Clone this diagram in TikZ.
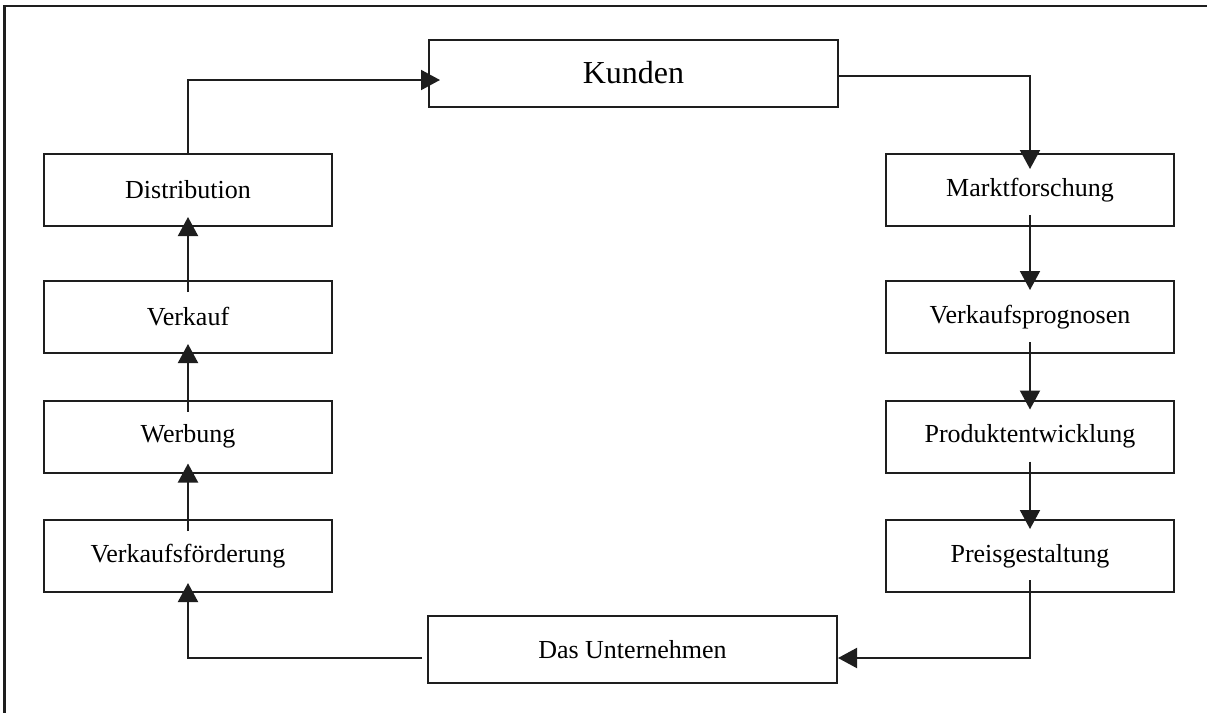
\documentclass[tikz,border=0pt]{standalone}
\usepackage{fontspec}
\setmainfont{Liberation Serif}
\usetikzlibrary{arrows.meta, positioning, calc}
\definecolor{ink}{RGB}{30,30,30}
\tikzset{
  block/.style={draw=ink, line width=1pt, minimum width=144pt, minimum height=36pt,
    inner sep=0pt, font=\fontsize{13}{15}\selectfont},
  wide/.style={block, minimum width=204.5pt, minimum height=33.5pt},
  flow/.style={draw=ink, line width=1pt, -{Triangle[length=9.5pt,width=10pt]}},
}

\begin{document}
\begin{tikzpicture}[x=0.5pt, y=-0.5pt]
  \useasboundingbox (0,0) rectangle (1207,713);
  % Frame (only left and top edges visible)
  \draw[ink, line width=1.3pt] (4.5,713) -- (4.5,6) -- (1207,6);
  % Top and bottom
  \node[wide, font=\fontsize{16}{18}\selectfont] (kunden) at (633.5,73) {Kunden};
  \node[wide] (unt) at (632.5,649.5) {Das Unternehmen};
  % Left column
  \node[block] (dist) at (188,190) {Distribution};
  \node[block] (verk) at (188,317) {Verkauf};
  \node[block] (werb) at (188,436.5) {Werbung};
  \node[block] (vkf) at (188,556) {Verkaufsförderung};
  % Right column
  \node[block] (markt) at (1030,190) {Marktforschung};
  \node[block] (prog) at (1030,317) {Verkaufsprognosen};
  \node[block] (prod) at (1030,436.5) {Produktentwicklung};
  \node[block] (preis) at (1030,556) {Preisgestaltung};
  % Right side, downwards
  \draw[flow, shorten >=-8pt] ([yshift=-1.5pt]kunden.east) -| (markt.north);
  \foreach \a/\b in {markt/prog, prog/prod, prod/preis} {
    \draw[flow, shorten <=-6pt, shorten >=-5pt] (\a.south) -- (\b.north);
  }
  \draw[flow, shorten <=-6.5pt] (preis.south) |- ([yshift=-4.25pt]unt.east);
  % Left side, upwards
  \draw[flow, shorten <=2.5pt, shorten >=-5pt] ([yshift=-4.25pt]unt.west) -| (vkf.south);
  \foreach \a/\b in {vkf/werb, werb/verk, verk/dist} {
    \draw[flow, shorten <=-6pt, shorten >=-5pt] (\a.north) -- (\b.south);
  }
  \draw[flow, shorten >=-6pt] (dist.north) |- ([yshift=-3.5pt]kunden.west);
\end{tikzpicture}
\end{document}
